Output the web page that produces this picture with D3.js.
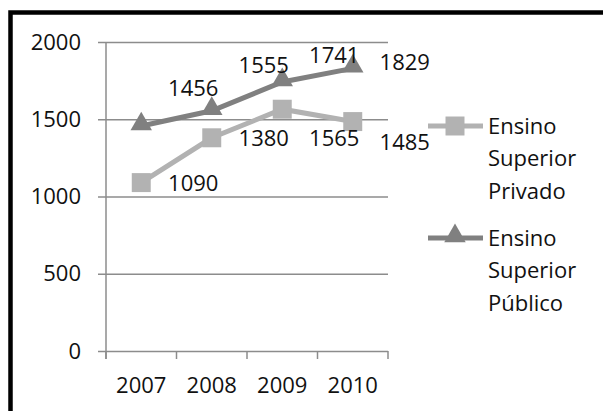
<!DOCTYPE html>
<html lang="pt">
<head>
  <meta charset="UTF-8" />
  <script src="https://d3js.org/d3.v7.min.js"></script>
  <style>
    body { margin: 0; background: #fff; }
    text { font-family: "Open Sans", sans-serif; font-size: 22px; fill: #111; }
  </style>
</head>
<body>
  <script>
    // dados
    var years = ["2007", "2008", "2009", "2010"];
    var privado = [1090, 1380, 1565, 1485];
    var publico = [1456, 1555, 1741, 1829];
    var yTicks = [0, 500, 1000, 1500, 2000];
    var seriesNames = [["Ensino", "Superior", "Privado"], ["Ensino", "Superior", "Público"]];
    // nível (em unidades do eixo) onde cada rótulo aparece
    var privadoLabelAt = [1087, 1379, 1379, 1353];
    var publicoLabelAt = [1702, 1851, 1916, 1870];

    var width = 603, height = 411;
    var plotLeft = 106, plotRight = 388, plotTop = 42, plotBottom = 351;
    var gridStart = 98;

    var svg = d3.select("body").append("svg")
      .attr("width", width)
      .attr("height", height);

    // moldura
    svg.append("path")
      .attr("d", "M10.5," + height + "V12.5H" + width)
      .attr("fill", "none")
      .attr("stroke", "#000")
      .attr("stroke-width", 4.5);

    var x = d3.scaleBand().domain(years).range([plotLeft, plotRight]);
    var y = d3.scaleLinear().domain([0, 2000]).range([plotBottom, plotTop]);

    // grade + rótulos do eixo y
    var gy = svg.append("g")
      .attr("transform", "translate(" + plotRight + ",0)")
      .call(d3.axisLeft(y).tickValues(yTicks).tickFormat(d3.format("d"))
        .tickSize(plotRight - gridStart).tickPadding(17));
    gy.select(".domain").remove();
    gy.selectAll("line").attr("stroke", "#8c8c8c").attr("stroke-width", 1.5);
    gy.selectAll("text").style("font-size", "22px").attr("fill", "#111").style("font-family", "Open Sans");

    // eixo y
    svg.append("line")
      .attr("x1", plotLeft).attr("x2", plotLeft)
      .attr("y1", y(2000)).attr("y2", y(0) + 8)
      .attr("stroke", "#8c8c8c").attr("stroke-width", 1.5);

    // eixo x
    var gx = svg.append("g")
      .attr("transform", "translate(0," + plotBottom + ")")
      .call(d3.axisBottom(x).tickSize(0).tickPadding(26));
    gx.select(".domain").remove();
    gx.selectAll("text").style("font-size", "22px").attr("fill", "#111").style("font-family", "Open Sans");

    var bounds = years.map(function (d) { return x(d); }).concat([x(years[years.length - 1]) + x.bandwidth()]);
    svg.selectAll(".xtick").data(bounds).enter().append("line")
      .attr("x1", function (d) { return d; }).attr("x2", function (d) { return d; })
      .attr("y1", plotBottom).attr("y2", plotBottom + 8)
      .attr("stroke", "#8c8c8c").attr("stroke-width", 1.5);

    var line = d3.line()
      .x(function (d, i) { return x(years[i]) + x.bandwidth() / 2; })
      .y(function (d) { return y(d); });

    var tri = d3.symbol().type(d3.symbolTriangle).size(200);
    var sq = d3.symbol().type(d3.symbolSquare).size(360);

    var series = [
      { values: privado, labels: privadoLabelAt, color: "#b2b2b2", symbol: sq, dy: 0 },
      { values: publico, labels: publicoLabelAt, color: "#808080", symbol: tri, dy: -2 }
    ];

    series.forEach(function (s) {
      svg.append("path")
        .attr("d", line(s.values))
        .attr("fill", "none")
        .attr("stroke", s.color)
        .attr("stroke-width", 5);
      svg.selectAll(null).data(s.values).enter().append("path")
        .attr("d", s.symbol)
        .attr("fill", s.color)
        .attr("transform", function (d, i) {
          return "translate(" + (x(years[i]) + x.bandwidth() / 2) + "," + (y(d) + s.dy) + ")";
        });
    });

    // rótulos de dados
    series.forEach(function (s) {
      svg.selectAll(null).data(s.values).enter().append("text")
        .attr("x", function (d, i) { return x(years[i]) + x.bandwidth() / 2 + 52; })
        .attr("y", function (d, i) { return y(s.labels[i]); })
        .attr("dy", "0.35em")
        .attr("text-anchor", "middle")
        .text(function (d) { return d; });
    });

    // legenda
    var legend = svg.append("g");
    series.forEach(function (s, k) {
      var ly = 126 + k * 112;
      legend.append("line")
        .attr("x1", 428).attr("x2", 483)
        .attr("y1", ly).attr("y2", ly)
        .attr("stroke", s.color).attr("stroke-width", 5);
      legend.append("path")
        .attr("d", s.symbol)
        .attr("fill", s.color)
        .attr("transform", "translate(455," + (ly + s.dy) + ")");
      seriesNames[k].forEach(function (t, j) {
        legend.append("text")
          .attr("x", 488)
          .attr("y", ly + j * 32.5)
          .attr("dy", "0.35em")
          .text(t);
      });
    });
  </script>
</body>
</html>
